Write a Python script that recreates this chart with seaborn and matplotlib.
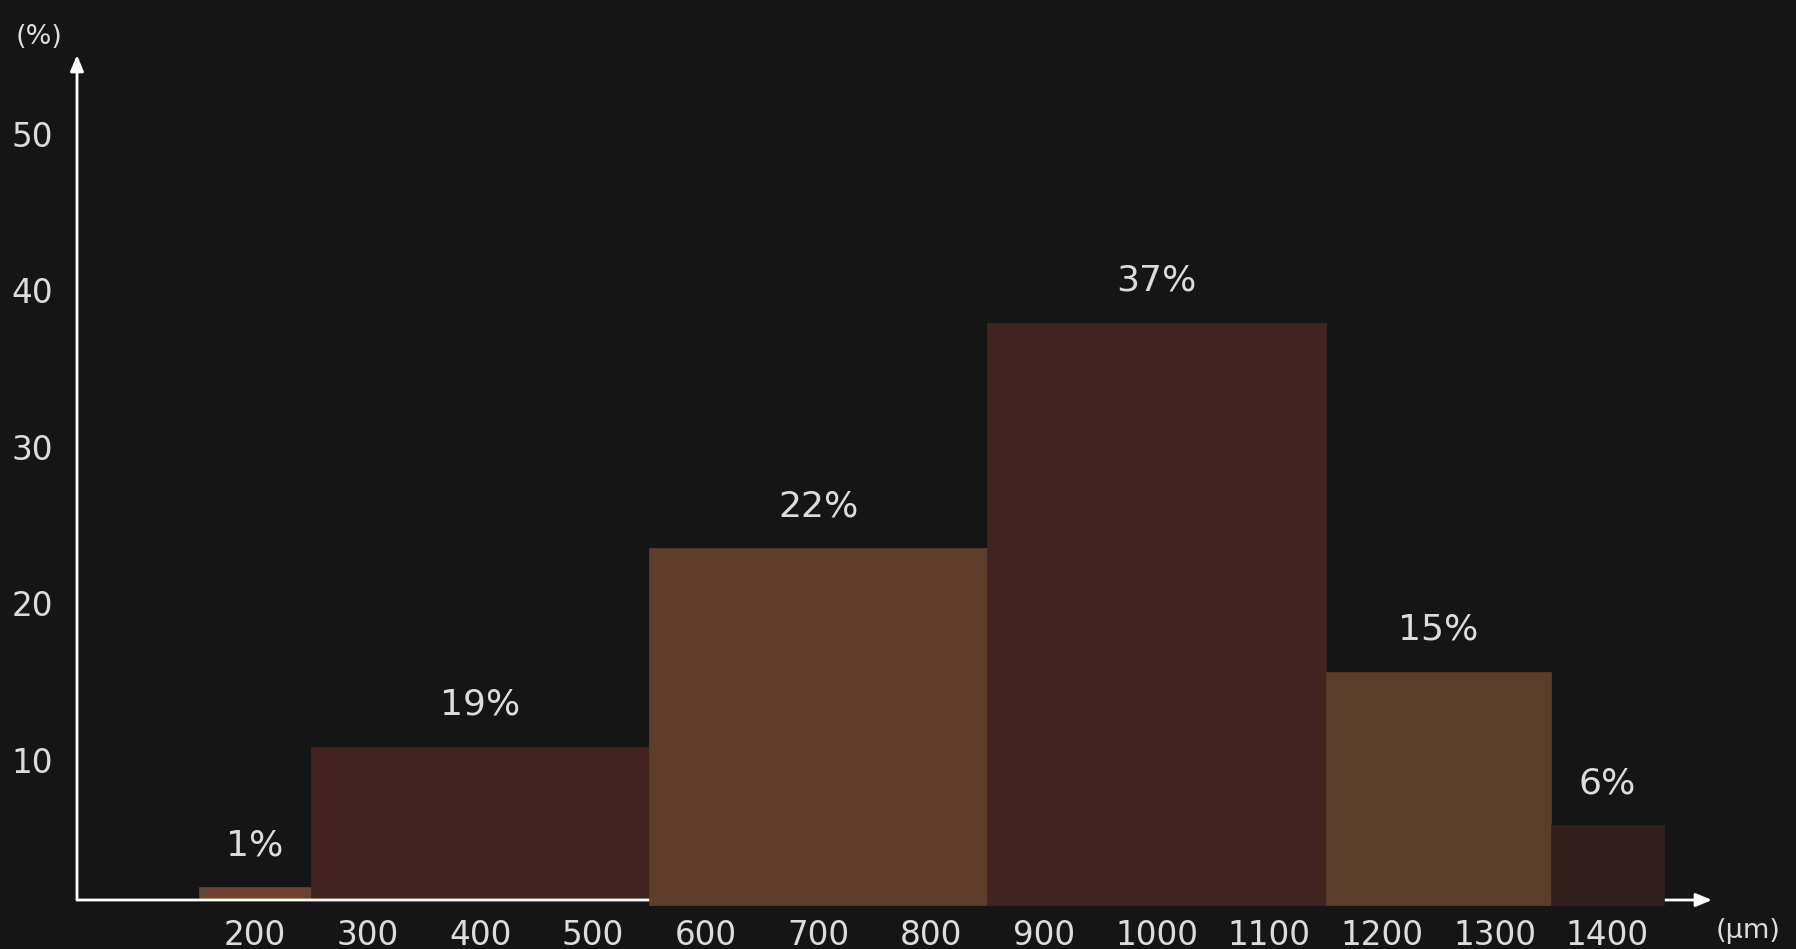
import matplotlib
matplotlib.use('Agg')
import matplotlib.pyplot as plt
from matplotlib.transforms import ScaledTranslation
import seaborn as sns

# ---------------- data ----------------
bin_edges = [150, 250, 550, 850, 1150, 1350, 1450]
bar_heights = [0.8, 9.8, 22.5, 36.9, 14.6, 4.8]
bar_labels = ['1%', '19%', '22%', '37%', '15%', '6%']
bar_colors = ['#6a4430', '#42231f', '#5e3e2a', '#42231f', '#5c3d2a', '#34211f']
x_ticks = [200, 300, 400, 500, 600, 700, 800, 900, 1000, 1100, 1200, 1300, 1400]
x_tick_labels = [str(v) for v in x_ticks]
y_ticks = [10, 20, 30, 40, 50]
y_tick_labels = [str(v) for v in y_ticks]
y_unit = '(%)'
x_unit = '(μm)'

BG = '#151515'
TXT = '#dcdcdc'

sns.set_theme(style='dark', rc={'axes.facecolor': BG, 'figure.facecolor': BG})
plt.rcParams['font.family'] = ['DejaVu Sans']

W, H = 1796, 949
fig = plt.figure(figsize=(W / 100, H / 100), dpi=100, facecolor=BG)
ax = fig.add_axes([77 / W, 49 / H, (1712 - 77) / W, (900 - 55) / H])
ax.set_facecolor(BG)

centers = [(a + b) / 2 for a, b in zip(bin_edges[:-1], bin_edges[1:])]
sns.histplot(x=centers, weights=bar_heights, bins=bin_edges, ax=ax,
             alpha=1, linewidth=0, legend=False)

for i, (p, c) in enumerate(zip(ax.patches, bar_colors)):
    p.set_facecolor(c)
    p.set_edgecolor(c)
    p.set_linewidth(0.5)
    if i >= 2:
        h = p.get_height()
        p.set_y(-0.35)
        p.set_height(h + 0.35)
        p.set_clip_on(False)
        p.set_zorder(3)
    else:
        p.set_zorder(1)

for p, h, lbl in zip(ax.patches, bar_heights, bar_labels):
    ax.annotate(lbl, xy=(p.get_x() + p.get_width() / 2, h),
                xytext=(0, 30), textcoords='offset points',
                ha='center', va='center', fontsize=26, color=TXT, zorder=5)

ax.set_xlim(42, 1493)
ax.set_ylim(0, 54.0)
ax.grid(False)
for s in ax.spines.values():
    s.set_visible(False)
ax.set_xlabel('')
ax.set_ylabel('')

ax.set_xticks(x_ticks)
ax.set_xticklabels(x_tick_labels)
ax.set_yticks(y_ticks)
ax.set_yticklabels(y_tick_labels)
ax.tick_params(axis='x', length=0, pad=14, labelsize=23.5, labelcolor=TXT)
ax.tick_params(axis='y', length=0, pad=17, labelsize=23.5, labelcolor=TXT)
off = ScaledTranslation(0, -16 / 100, fig.dpi_scale_trans)
for t in ax.get_yticklabels():
    t.set_transform(t.get_transform() + off)

arrow = dict(arrowstyle='-|>,head_length=0.6,head_width=0.25', color='white',
             lw=2.0, mutation_scale=16, shrinkA=0, shrinkB=0)
ax.annotate('', xy=(1, 0), xytext=(0, 0), xycoords='axes fraction',
            arrowprops=arrow, zorder=2.5, annotation_clip=False)
ax.annotate('', xy=(0, 1), xytext=(0, 0), xycoords='axes fraction',
            arrowprops=arrow, zorder=2.5, annotation_clip=False)

fig.text(39 / W, 1 - 37 / H, y_unit, ha='center', va='center', fontsize=19.5, color=TXT)
fig.text(1748 / W, 1 - 931 / H, x_unit, ha='center', va='center', fontsize=19.5, color=TXT)

fig.savefig('out.png', dpi=100, facecolor=BG)
